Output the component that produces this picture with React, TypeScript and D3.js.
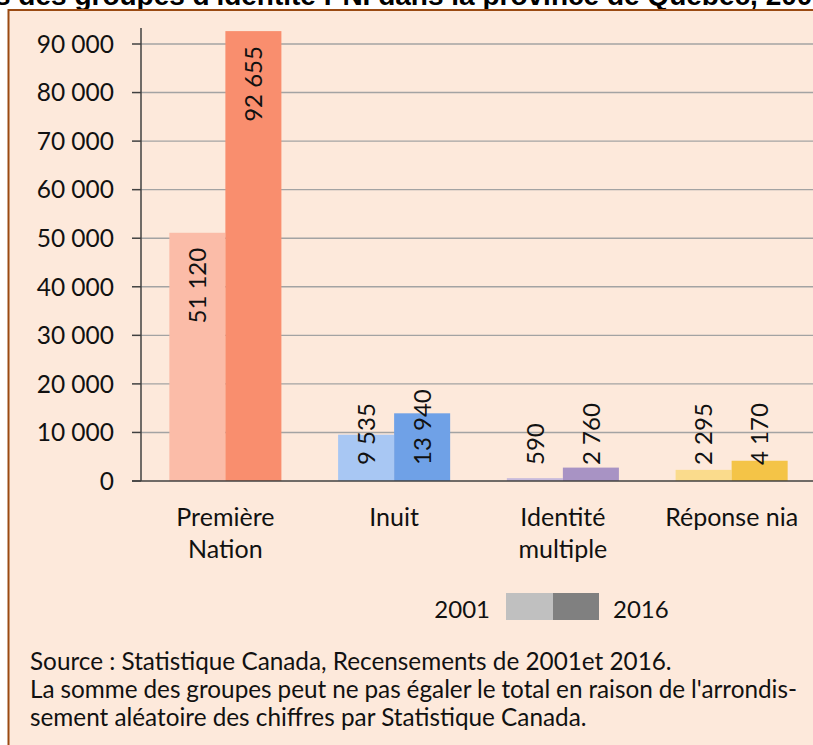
import React, { useLayoutEffect, useRef, useState } from 'react';
import * as d3 from 'd3';

const categories: string[][] = [["Première", "Nation"], ["Inuit"], ["Identité", "multiple"], ["Réponse nia"]];
const years = ["2001", "2016"];
const values2001 = [51120, 9535, 590, 2295];
const values2016 = [92655, 13940, 2760, 4170];
const yTicks = [0, 10000, 20000, 30000, 40000, 50000, 60000, 70000, 80000, 90000];
const colors2001 = ["#FBBCA8", "#A8C7F3", "#C8BBDC", "#FADB8C"];
const colors2016 = ["#F98E6E", "#6FA1E7", "#A893C4", "#F4C447"];
const legendColors = ["#C0C0C0", "#808080"];
const titleStart = "Effectifs de";
const titleRest = "s des groupes d'identité PNI dans la province de Québec, 2001 et 2016";
const sourceLines = [
  "Source : Statistique Canada, Recensements de 2001et 2016.",
  "La somme des groupes peut ne pas égaler le total en raison de l'arrondis-",
  "sement aléatoire des chiffres par Statistique Canada.",
];

const W = 813;
const H = 745;
const FONT = "Lato, 'Open Sans', sans-serif";
const JUSTIFY_WIDTH = 767;

const fr = d3.formatLocale({ decimal: ",", thousands: " ", grouping: [3], currency: ["", " $"] });
const fmt = fr.format(",");

export default function App() {
  const y = d3.scaleLinear().domain([0, 90000]).range([481, 44]);
  const x0 = d3.scaleBand<number>().domain(categories.map((_, i) => i)).range([141, 816]).paddingInner(0.336).paddingOuter(0.168);
  const x1 = d3.scaleBand<string>().domain(years).range([0, x0.bandwidth()]);
  const series = [values2001, values2016];
  const cols = [colors2001, colors2016];

  const justRef = useRef<SVGTextElement>(null);
  const [ws, setWs] = useState(0);
  useLayoutEffect(() => {
    const el = justRef.current;
    if (!el) return;
    const w = el.getComputedTextLength();
    const spaces = (sourceLines[1].match(/ /g) || []).length;
    setWs((JUSTIFY_WIDTH - w) / spaces);
  }, []);

  return (
    <svg width={W} height={H} style={{ position: 'absolute', left: 0, top: 0, display: 'block' }} xmlns="http://www.w3.org/2000/svg">
      <rect x={0} y={0} width={W} height={H} fill="#ffffff" />
      {/* title (clipped at top) */}
      <text y={5} fontFamily="'Liberation Sans', Arial, sans-serif" fontWeight="bold" fontSize={28} fill="#000">
        <tspan x={-5} textAnchor="end">{titleStart}</tspan>
        <tspan x={-5} textAnchor="start">{titleRest}</tspan>
      </text>
      {/* panel */}
      <rect x={8.5} y={10} width={W + 20} height={H + 20} fill="#FDE9DB" stroke="#9A4A12" strokeWidth={2} />
      {/* gridlines */}
      {yTicks.filter(t => t > 0).map(t => (
        <line key={t} x1={141} x2={W} y1={y(t)} y2={y(t)} stroke="#A3A3A3" strokeWidth={1.4} />
      ))}
      {/* bars */}
      {series.map((vals, s) => vals.map((v, i) => (
        <rect key={`${s}-${i}`} x={(x0(i) as number) + (x1(years[s]) as number)} y={y(v)} width={x1.bandwidth()} height={y(0) - y(v)} fill={cols[s][i]} />
      )))}
      {/* axes */}
      <line x1={141} x2={141} y1={y(93300)} y2={y(0)} stroke="#404040" strokeWidth={1.5} />
      <line x1={132} x2={W} y1={y(0)} y2={y(0)} stroke="#404040" strokeWidth={1.5} />
      {yTicks.map(t => (
        <g key={t}>
          <line x1={132} x2={141} y1={y(t)} y2={y(t)} stroke="#404040" strokeWidth={1.5} />
          <text x={114} y={y(t)} dy="0.36em" textAnchor="end" fontFamily={FONT} fontSize={24.5} fill="#111">{fmt(t)}</text>
        </g>
      ))}
      {/* value labels */}
      {series.map((vals, s) => vals.map((v, i) => {
        const cx = (x0(i) as number) + (x1(years[s]) as number) + x1.bandwidth() / 2;
        const inside = y(0) - y(v) > 120;
        const ty = inside ? y(v) + 15 : y(0) - 16;
        return (
          <text key={`l${s}-${i}`} transform={`translate(${cx},${ty}) rotate(-90)`} dy="0.36em" textAnchor={inside ? "end" : "start"} fontFamily={FONT} fontSize={24} fill="#111">{fmt(v)}</text>
        );
      }))}
      {/* category labels */}
      {categories.map((lines, i) => (
        <text key={`c${i}`} textAnchor="middle" fontFamily={FONT} fontSize={25} fill="#111">
          {lines.map((ln, k) => (
            <tspan key={k} x={(x0(i) as number) + x0.bandwidth() / 2} y={526 + k * 32}>{ln}</tspan>
          ))}
        </text>
      ))}
      {/* legend */}
      <text x={490} y={618} textAnchor="end" fontFamily={FONT} fontSize={24} fill="#111">{years[0]}</text>
      <rect x={506} y={593} width={47} height={27} fill={legendColors[0]} />
      <rect x={553} y={593} width={46} height={27} fill={legendColors[1]} />
      <text x={613} y={618} textAnchor="start" fontFamily={FONT} fontSize={24} fill="#111">{years[1]}</text>
      {/* source */}
      {sourceLines.map((ln, k) => (
        <text key={`s${k}`} ref={k === 1 ? justRef : undefined} x={30} y={670 + k * 28} fontFamily={FONT} fontSize={24.3}
          wordSpacing={k === 1 ? ws : 0} fill="#111">{ln}</text>
      ))}
    </svg>
  );
}
